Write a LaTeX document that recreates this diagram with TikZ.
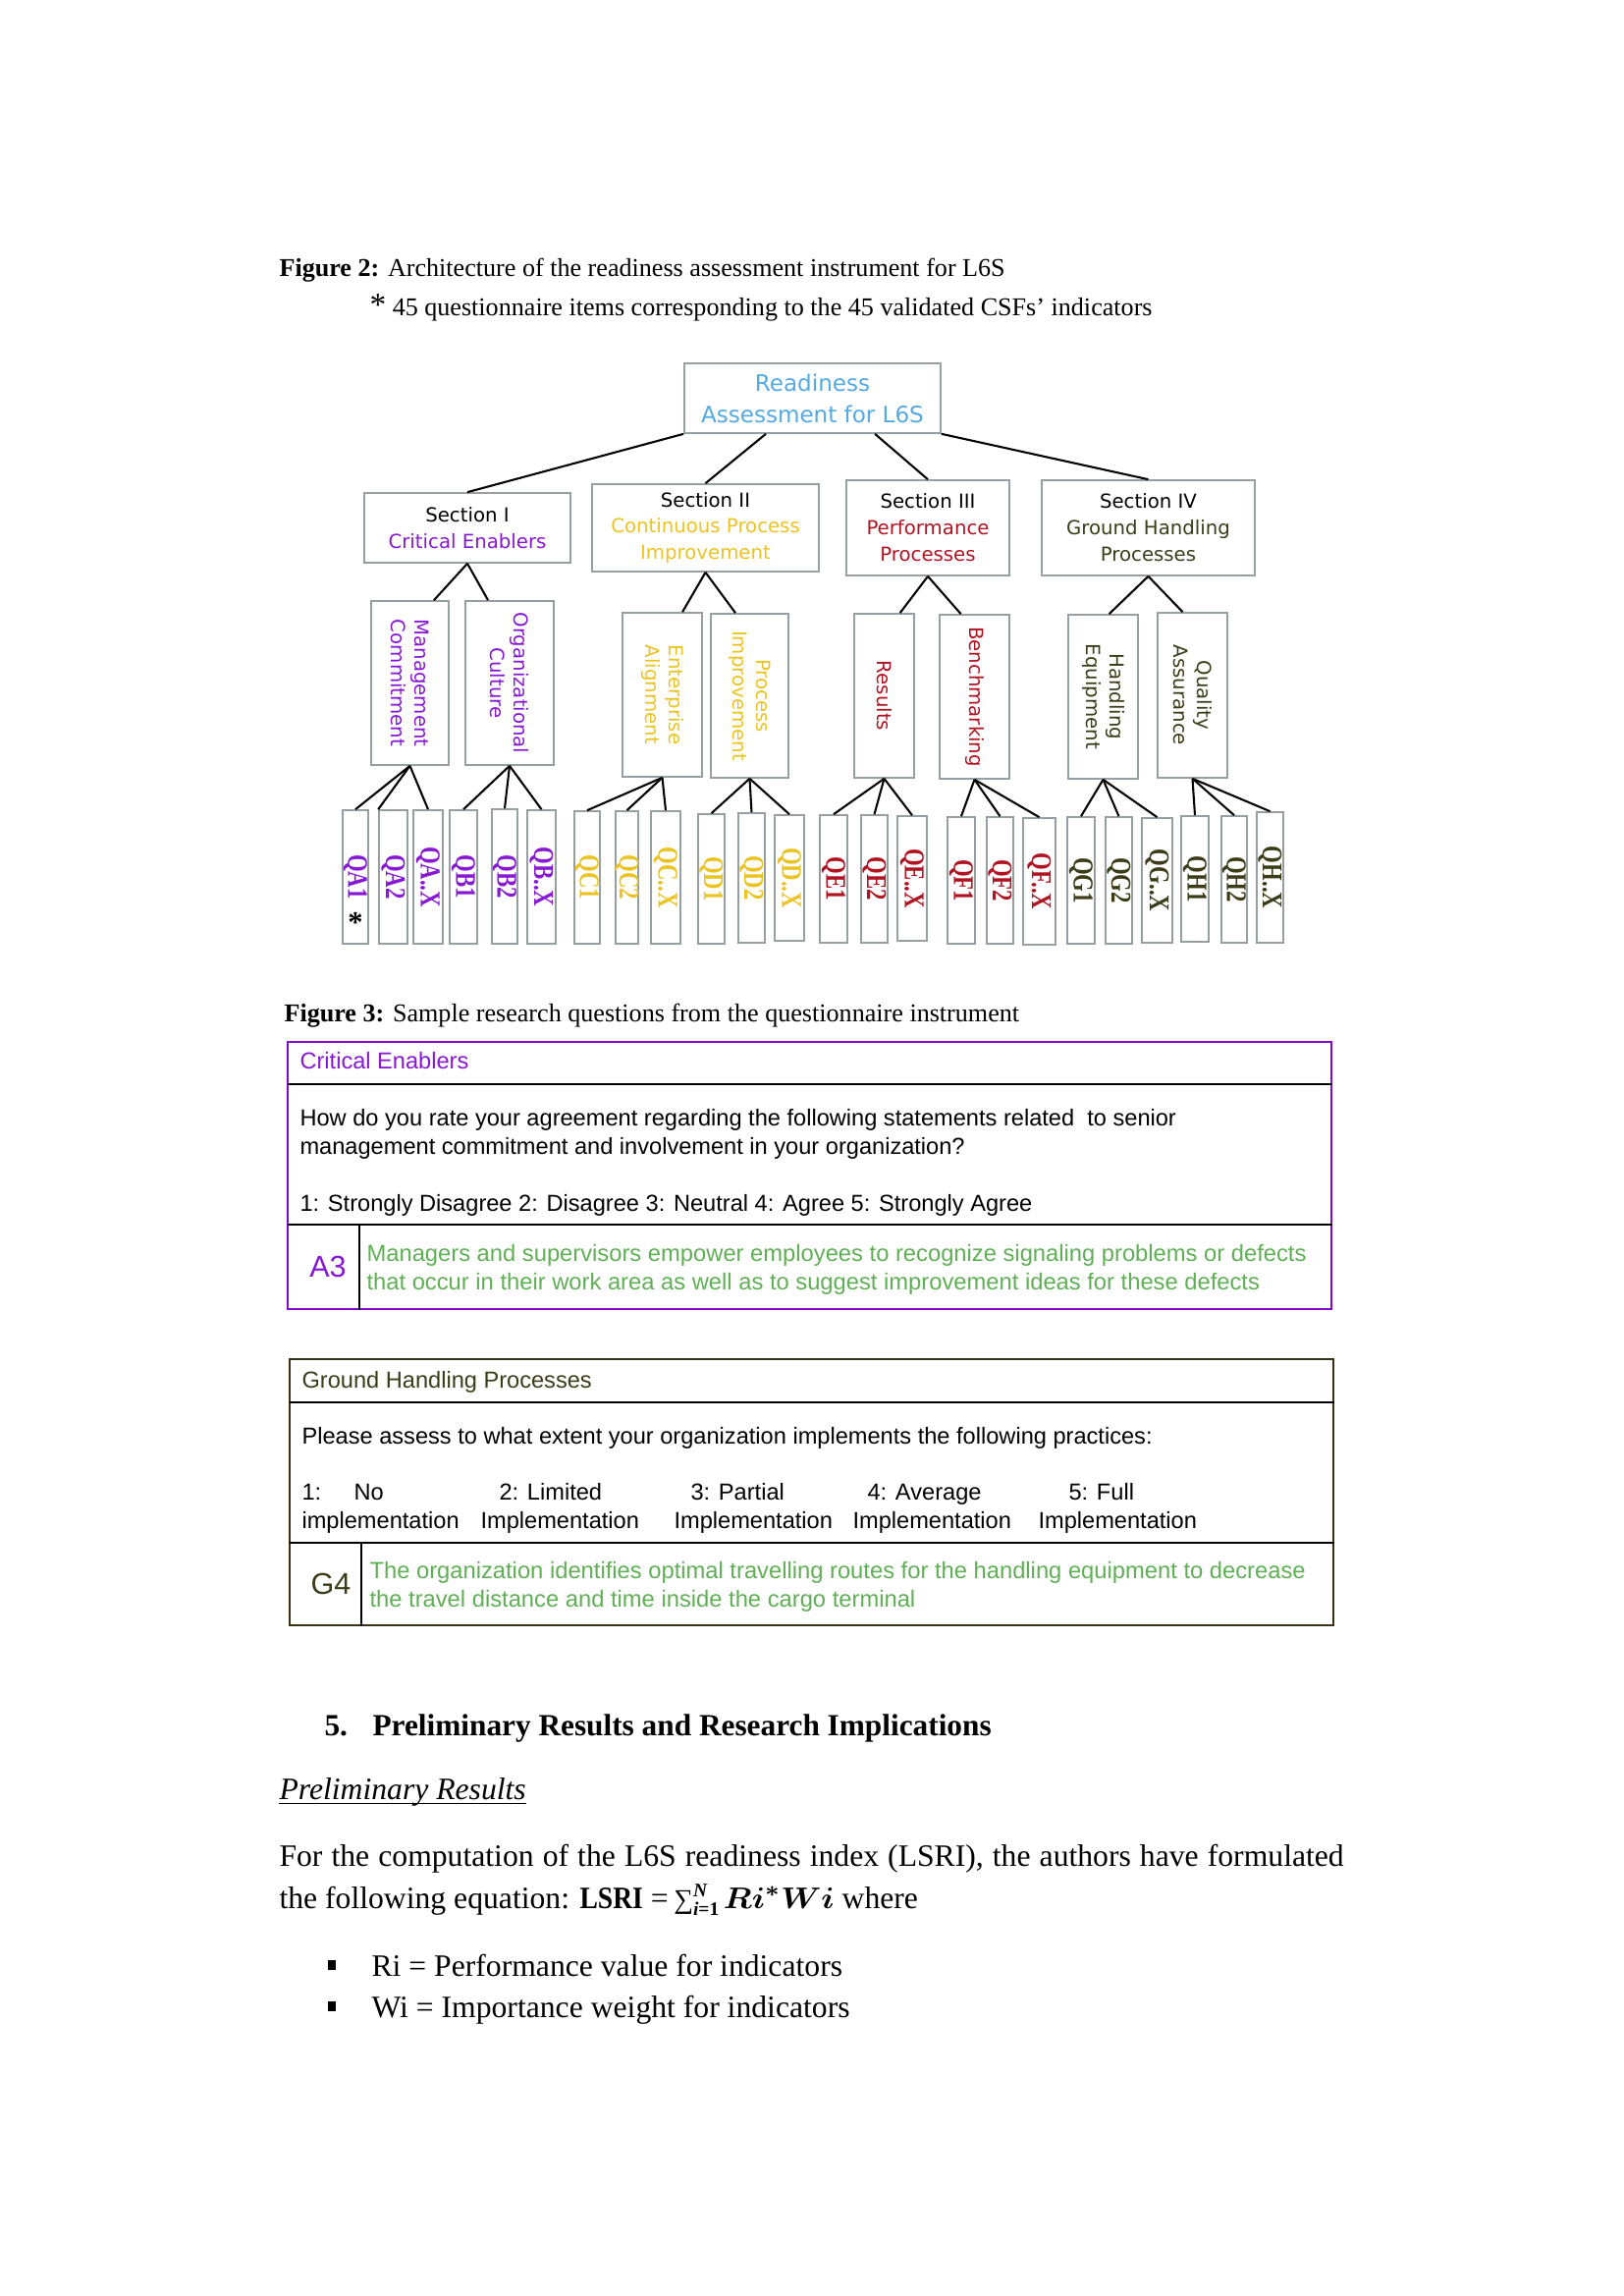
\documentclass[tikz,border=0pt]{standalone}
\usepackage{fontspec}
\usepackage{amsmath}
\usepackage{graphicx}
\setmainfont{Liberation Serif}
\newfontfamily\vsans{DejaVu Sans}
\newfontfamily\arial{Liberation Sans}
\newfontfamily\qserif[FakeStretch=0.78]{Liberation Serif}
\definecolor{cpurple}{RGB}{135,25,210}
\definecolor{cyellow}{RGB}{235,195,35}
\definecolor{cred}{RGB}{175,20,35}
\definecolor{colive}{RGB}{60,60,25}
\definecolor{cblue}{RGB}{85,170,225}
\definecolor{cgreen}{RGB}{95,175,85}
\definecolor{cgray}{RGB}{150,160,162}
\definecolor{tpurple}{RGB}{130,10,200}
\definecolor{tolive}{RGB}{55,50,20}
\newcommand\bx[7][]{\node[treebox,#1,minimum width={(#4-#3)*0.36pt},minimum height={(#6-#5)*0.36pt}] (#2) at ({(#3+#4)/2},{(#5+#6)/2}) {#7};}
\newcommand\smallscr[1]{\text{\fontsize{7}{7}\selectfont\bfseries #1}}
\begin{document}
\begin{tikzpicture}[x=0.36pt,y=-0.36pt,
  treebox/.style={draw=cgray,line width=0.6pt,inner sep=0pt,align=center,font=\vsans\fontsize{7.1}{9.7}\selectfont},
  conn/.style={line width=0.75pt,black},
  vlab/.style={rotate=-90,inner sep=0pt,align=center,font=\vsans\fontsize{7.1}{8.6}\selectfont},
  qlab/.style={rotate=-90,inner sep=0pt,font=\qserif\bfseries\fontsize{10.5}{11}\selectfont},
  figcap/.style={anchor=base west,inner sep=0pt,font=\fontsize{9.4}{11}\selectfont},
  txtbody/.style={anchor=base west,inner sep=0pt,font=\fontsize{11.4}{14}\selectfont},
  tabtxt/.style={anchor=base west,inner sep=0pt,font=\arial\fontsize{8.5}{10.4}\selectfont},
  tline/.style={line width=0.8pt,black}]
\path[use as bounding box] (0,0) rectangle (1653,2338);

% ---------- Figure 2 caption ----------
\node[figcap] (f2a) at (284,281) {\textbf{Figure 2:} Architecture of the readiness assessment instrument for L6S};
\node[figcap] (f2b) at (376,321) {{\fontsize{12}{12}\selectfont *} 45 questionnaire items corresponding to the 45 validated CSFs’ indicators};

% ---------- tree ----------
\bx[font=\vsans\fontsize{8.3}{11.5}\selectfont,text=cblue]{root}{697}{958}{370}{441}{Readiness\\Assessment for L6S}
\bx{S1}{371}{581}{502}{573}{Section I\\\textcolor{cpurple}{Critical Enablers}}
\bx{S2}{603}{834}{493}{582}{Section II\\\textcolor{cyellow}{Continuous Process}\\\textcolor{cyellow}{Improvement}}
\bx{S3}{862}{1028}{489}{586}{Section III\\\textcolor{cred}{Performance}\\\textcolor{cred}{Processes}}
\bx{S4}{1061}{1278}{489}{586}{Section IV\\\textcolor{colive}{Ground Handling}\\\textcolor{colive}{Processes}}

\draw[conn] (root.south west) -- (S1.north);
\draw[conn] ([xshift=-17.1pt]root.south) -- (S2.north);
\draw[conn] ([xshift=22.9pt]root.south) -- (S3.north);
\draw[conn] (root.south east) -- (S4.north);

\bx{MC}{378}{457}{612}{779}{}
\bx{OC}{474}{564}{612}{779}{}
\bx{EA}{634}{715}{624}{791}{}
\bx{PI}{724}{803}{625}{792}{}
\bx{RE}{870}{931}{625}{792}{}
\bx{BE}{957}{1028}{626}{793}{}
\bx{HE}{1088}{1159}{626}{793}{}
\bx{QU}{1179}{1250}{624}{792}{}
\node[vlab,text=cpurple] (MCt) at (MC.center) {Management\\Commitment};
\node[vlab,text=cpurple] (OCt) at (OC.center) {Organizational\\Culture};
\node[vlab,text=cyellow] (EAt) at (EA.center) {Enterprise\\Alignment};
\node[vlab,text=cyellow] (PIt) at (PI.center) {Process\\Improvement};
\node[vlab,text=cred] (REt) at (RE.center) {Results};
\node[vlab,text=cred] (BEt) at (BE.center) {Benchmarking};
\node[vlab,text=colive] (HEt) at (HE.center) {Handling\\Equipment};
\node[vlab,text=colive] (QUt) at (QU.center) {Quality\\Assurance};

\draw[conn] (S1.south) -- ([xshift=8.8pt]MC.north);
\draw[conn] (S1.south) -- ([xshift=-7.9pt]OC.north);
\draw[conn] (S2.south) -- ([xshift=7.4pt]EA.north);
\draw[conn] (S2.south) -- ([xshift=-5.2pt]PI.north);
\draw[conn] (S3.south) -- ([xshift=5.8pt]RE.north);
\draw[conn] (S3.south) -- ([xshift=-5pt]BE.north);
\draw[conn] (S4.south) -- ([xshift=2.2pt]HE.north);
\draw[conn] (S4.south) -- ([xshift=-3.6pt]QU.north);

\foreach \n/\a/\b/\c/\d/\t/\col in {
  QA1/349/375/825/961/QA1/cpurple, QA2/386/415/825/961/QA2/cpurple, QAX/421/451/825/961/QA..X/cpurple,
  QB1/458/486/825/961/QB1/cpurple, QB2/501/527/824/961/QB2/cpurple, QBX/537/566/825/961/QB..X/cpurple,
  QC1/585/611/826/961/QC1/cyellow, QC2/627/650/826/961/QC2/cyellow, QCX/663/693/826/961/QC..X/cyellow,
  QD1/711/738/829/961/QD1/cyellow, QD2/752/779/828/960/QD2/cyellow, QDX/789/819/830/958/QD..X/cyellow,
  QE1/835/863/830/960/QE1/cred, QE2/877/904/830/960/QE2/cred, QEX/914/944/831/958/QE..X/cred,
  QF1/965/993/832/961/QF1/cred, QF2/1005/1032/832/961/QF2/cred, QFX/1042/1075/833/962/QF..X/cred,
  QG1/1087/1115/832/961/QG1/colive, QG2/1126/1153/832/961/QG2/colive, QGX/1163/1194/833/960/QG..X/colive,
  QH1/1203/1231/831/959/QH1/colive, QH2/1244/1270/831/960/QH2/colive, QHX/1280/1307/827/960/QH..X/colive}{
  \node[treebox,minimum width={(\b-\a)*0.36pt},minimum height={(\d-\c)*0.36pt}] (\n) at ({(\a+\b)/2},{(\c+\d)/2}) {};
  \node[qlab,text=\col] (\n t) at (\n.center) {\t};
}
\node[inner sep=0pt,font=\bfseries\fontsize{11}{11}\selectfont] (star) at (362,939) {*};

\draw[conn] (MC.south) -- (QA1.north);
\draw[conn] (MC.south) -- (QA2.north west);
\draw[conn] (MC.south) -- (QAX.north);
\foreach \p/\c in {OC/QB1,OC/QB2,OC/QBX,EA/QC1,EA/QC2,EA/QCX,PI/QD1,PI/QD2,PI/QDX,
  RE/QE1,RE/QE2,RE/QEX,BE/QF1,BE/QF2,BE/QFX,HE/QG1,HE/QG2,HE/QGX,QU/QH1,QU/QH2,QU/QHX}{
  \draw[conn] (\p.south) -- (\c.north);
}

% ---------- Figure 3 caption ----------
\node[figcap] (f3) at (289,1040) {\textbf{Figure 3:} Sample research questions from the questionnaire instrument};

% ---------- Table 1 ----------
\node[draw=tpurple,line width=1pt,inner sep=0pt,minimum width={(1356-293)*0.36pt},minimum height={(1333-1061)*0.36pt}] (T1) at ({(293+1356)/2},{(1061+1333)/2}) {};
\coordinate (t1a) at (293,1104);
\coordinate (t1b) at (293,1247);
\coordinate (t1c) at (366,1247);
\draw[tline] (t1a) -- (t1a -| T1.east);
\draw[tline] (t1b) -- (t1b -| T1.east);
\draw[line width=0.7pt] (t1c) -- (t1c |- T1.south);
\node[tabtxt,text=cpurple] (t1h) at (305,1088) {Critical Enablers};
\node[tabtxt] (t1q1) at (305,1146) {How do you rate your agreement regarding the following statements related \ to senior};
\node[tabtxt] (t1q2) at (305,1175) {management commitment and involvement in your organization?};
\node[tabtxt] (t1s) at (305,1233) {1: Strongly Disagree 2: Disagree 3: Neutral 4: Agree 5: Strongly Agree};
\node[inner sep=0pt,text=cpurple,font=\arial\fontsize{11}{11}\selectfont] (A3) at (334,1290) {A3};
\node[tabtxt,text=cgreen,font=\arial\fontsize{8.55}{10.4}\selectfont] (t1g1) at (373,1284) {Managers and supervisors empower employees to recognize signaling problems or defects};
\node[tabtxt,text=cgreen,font=\arial\fontsize{8.55}{10.4}\selectfont] (t1g2) at (373,1313) {that occur in their work area as well as to suggest improvement ideas for these defects};

% ---------- Table 2 ----------
\node[draw=tolive,line width=1pt,inner sep=0pt,minimum width={(1358-295)*0.36pt},minimum height={(1655-1384)*0.36pt}] (T2) at ({(295+1358)/2},{(1384+1655)/2}) {};
\coordinate (t2a) at (295,1428);
\coordinate (t2b) at (295,1571);
\coordinate (t2c) at (368,1571);
\draw[tline] (t2a) -- (t2a -| T2.east);
\draw[tline] (t2b) -- (t2b -| T2.east);
\draw[line width=0.7pt] (t2c) -- (t2c |- T2.south);
\node[tabtxt,text=colive] (t2h) at (307,1413) {Ground Handling Processes};
\node[tabtxt] (t2q) at (307,1470) {Please assess to what extent your organization implements the following practices:};
\node[tabtxt] (s1a) at (307,1527) {1:};
\node[tabtxt] (s1b) at (360,1527) {No};
\node[tabtxt] (s2a) at (508,1527) {2: Limited};
\node[tabtxt] (s3a) at (703,1527) {3: Partial};
\node[tabtxt] (s4a) at (883,1527) {4: Average};
\node[tabtxt] (s5a) at (1088,1527) {5: Full};
\node[tabtxt] (s1c) at (307,1556) {implementation};
\node[tabtxt] (s2c) at (489,1556) {Implementation};
\node[tabtxt] (s3c) at (686,1556) {Implementation};
\node[tabtxt] (s4c) at (868,1556) {Implementation};
\node[tabtxt] (s5c) at (1057,1556) {Implementation};
\node[inner sep=0pt,text=colive,font=\arial\fontsize{11}{11}\selectfont] (G4) at (337,1613) {G4};
\node[tabtxt,text=cgreen,font=\arial\fontsize{8.55}{10.4}\selectfont] (t2g1) at (376,1607) {The organization identifies optimal travelling routes for the handling equipment to decrease};
\node[tabtxt,text=cgreen,font=\arial\fontsize{8.55}{10.4}\selectfont] (t2g2) at (376,1636) {the travel distance and time inside the cargo terminal};

% ---------- Text ----------
\node[txtbody,font=\fontsize{11.27}{14}\selectfont] (h5n) at (330,1767) {\textbf{5.}};
\node[txtbody,font=\fontsize{11.27}{14}\selectfont] (h5) at (379,1767) {\textbf{Preliminary Results and Research Implications}};
\node[txtbody] (PR) at (284,1832) {\textit{Preliminary Results}};
\draw[line width=0.5pt] ([yshift=-1.6pt]PR.base west) -- ([yshift=-1.6pt]PR.base east);
\node[txtbody] (p1) at (284,1900) {\makebox[390.3pt][s]{For the computation of the L6S readiness index (LSRI), the authors have formulated}};
\node[txtbody] (p2) at (284,1943) {the following equation: \scalebox{0.87}[1]{\textbf{LSRI}} =\hspace{2pt}$\text{\fontsize{10}{10}\selectfont ∑}_{\smallscr{\itshape i\upshape =1}}^{\smallscr{\itshape N}}$\hspace{1.2pt}\scalebox{1.08}[1]{$\boldsymbol{Ri^{*}Wi}$} where};
\node[inner sep=0pt] (b1) at (338,2001) {\rule{2.8pt}{3.8pt}};
\node[txtbody] (l1) at (378,2012) {Ri = Performance value for indicators};
\node[inner sep=0pt] (b2) at (338,2043) {\rule{2.8pt}{3.8pt}};
\node[txtbody] (l2) at (378,2054) {Wi = Importance weight for indicators};
\end{tikzpicture}
\end{document}
